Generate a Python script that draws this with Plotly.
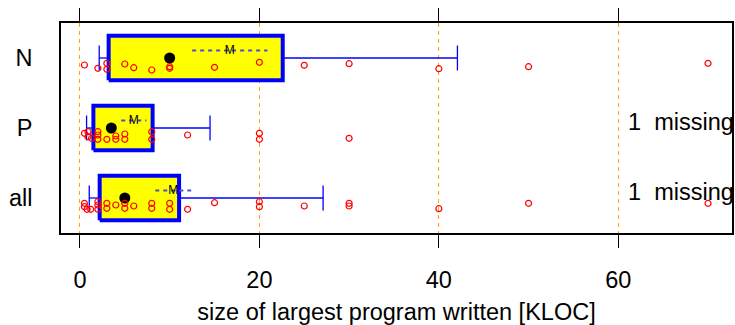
import plotly.graph_objects as go

# ---------------- data ----------------
groups = ["all", "P", "N"]          # bottom to top
group_pos = [1, 2, 3]

n_values = [0.5, 2, 3, 3, 5, 6, 8, 10, 10, 15, 20, 25, 30, 40, 50, 70]
n_jitter = [7, 10.3, 5.3, 11.3, 6, 9.7, 12, 8.7, 10.3, 9.3, 4.3, 7.3, 5.7, 10.7, 8.7, 5.3]

p_values = [0.5, 0.9, 0.9, 1.3, 2, 2, 2, 3, 4, 4, 5, 5, 8, 8, 12, 20, 20, 30]
p_jitter = [5.3, 3.7, 8.7, 10.3, 3.7, 7, 11.3, 11.3, 8, 11.3, 6, 11.3, 3.7, 11.3, 7, 5.3, 11.3, 10.3]

all_values = [0.5, 0.5, 0.8, 1.2, 2, 2, 2, 3, 3, 4, 5, 5, 6, 8, 8, 10, 10, 12, 15,
              20, 20, 25, 30, 30, 40, 50, 70]
all_jitter = [5.3, 8.7, 11.3, 11.3, 3.7, 7, 11.3, 5.3, 10.3, 7, 5.3, 10.3, 8, 5.3, 10.3,
              5.3, 11.3, 11.3, 4.7, 3.7, 8.7, 8, 5.3, 8, 10.7, 5.3, 5.3]

# summary statistics per group (order: all, P, N)
q1 = [2.2, 1.5, 3.2]
median = [5, 3.5, 10]
q3 = [11.05, 8.1, 22.6]
whisker_lo = [1.04, 0.74, 2.15]
whisker_hi = [27.1, 14.5, 42.07]
mean = [10.4, 6.0, 16.7]
mean_lo = [8.4, 4.6, 12.5]
mean_hi = [12.4, 7.4, 20.9]
missing = [1, 1, 0]

x_ticks = [0, 20, 40, 60]
x_title = "size of largest program written [KLOC]"

# ---------------- style ----------------
PX = 70.0               # pixels per y unit
BOX_H = 22.35 / PX
CAP_H = 12.5 / PX
MEAN_OFF = 7.5 / PX
FONT = "Liberation Sans, Arial, Helvetica, sans-serif"
FS = 23.5

fig = go.Figure()

# boxes
for c, a, b in zip(group_pos, q1, q3):
    fig.add_trace(go.Scatter(
        x=[a, b, b, a, a], y=[c - BOX_H, c - BOX_H, c + BOX_H, c + BOX_H, c - BOX_H],
        mode="lines", fill="toself", fillcolor="#ffff00",
        line=dict(color="#0000ff", width=4), hoverinfo="skip", showlegend=False))

# whiskers
wx, wy = [], []
for c, lo, a, b, hi in zip(group_pos, whisker_lo, q1, q3, whisker_hi):
    wx += [lo, a, None, b, hi, None, lo, lo, None, hi, hi, None]
    wy += [c, c, None, c, c, None, c - CAP_H, c + CAP_H, None, c - CAP_H, c + CAP_H, None]
fig.add_trace(go.Scatter(x=wx, y=wy, mode="lines", line=dict(color="#0000ff", width=1.3),
                         hoverinfo="skip", showlegend=False))

# mean +- se dashed lines
mx, my = [], []
for c, lo, hi in zip(group_pos, mean_lo, mean_hi):
    mx += [lo, hi, None]
    my += [c + MEAN_OFF, c + MEAN_OFF, None]
fig.add_trace(go.Scatter(x=mx, y=my, mode="lines",
                         line=dict(color="#4d4dd6", width=2, dash="4px,4px"),
                         hoverinfo="skip", showlegend=False))
fig.add_trace(go.Scatter(x=mean, y=[c + MEAN_OFF for c in group_pos], mode="text",
                         text=["M"] * len(mean), textposition="middle center",
                         textfont=dict(family=FONT, size=12, color="black"),
                         hoverinfo="skip", showlegend=False))

# medians
fig.add_trace(go.Scatter(x=median, y=group_pos, mode="markers",
                         marker=dict(color="black", size=11, line=dict(width=0)),
                         hoverinfo="skip", showlegend=False))

# raw points
for c, vals, jit in zip(group_pos, [all_values, p_values, n_values],
                        [all_jitter, p_jitter, n_jitter]):
    fig.add_trace(go.Scatter(
        x=vals, y=[c - j / PX for j in jit], mode="markers",
        marker=dict(symbol="circle-open", color="#ff0000", size=6, line=dict(width=1.2)),
        hoverinfo="x", showlegend=False))

# missing annotations
for c, m in zip(group_pos, missing):
    if m > 0:
        fig.add_annotation(x=60.9, y=c + 6 / PX, xref="x", yref="y",
                           text=f"{m}\u00a0\u00a0missing", showarrow=False,
                           xanchor="left", yanchor="middle",
                           font=dict(family=FONT, size=FS, color="black"))

fig.update_layout(
    width=735, height=325,
    margin=dict(l=61, r=1, t=23, b=92),
    plot_bgcolor="white", paper_bgcolor="white",
    font=dict(family=FONT, size=FS, color="black"),
    xaxis=dict(
        range=[-2.11, 72.67], tickvals=x_ticks, ticktext=[str(t) for t in x_ticks],
        showgrid=True, gridcolor="#ffa500", gridwidth=1, griddash="4px,4px",
        zeroline=False, showline=True, linecolor="black", linewidth=1.5,
        mirror="all", ticks="outside", ticklen=13, tickcolor="black", tickwidth=1,
        ticklabelstandoff=12,
        title=dict(text=x_title, standoff=13, font=dict(size=FS)),
    ),
    yaxis=dict(
        range=[0.5, 3.5], tickvals=group_pos, ticktext=groups,
        showgrid=False, zeroline=False, showline=True, linecolor="black",
        linewidth=1.5, mirror=True, ticks="", ticklabelstandoff=22,
    ),
)

fig.write_html("out.html")
